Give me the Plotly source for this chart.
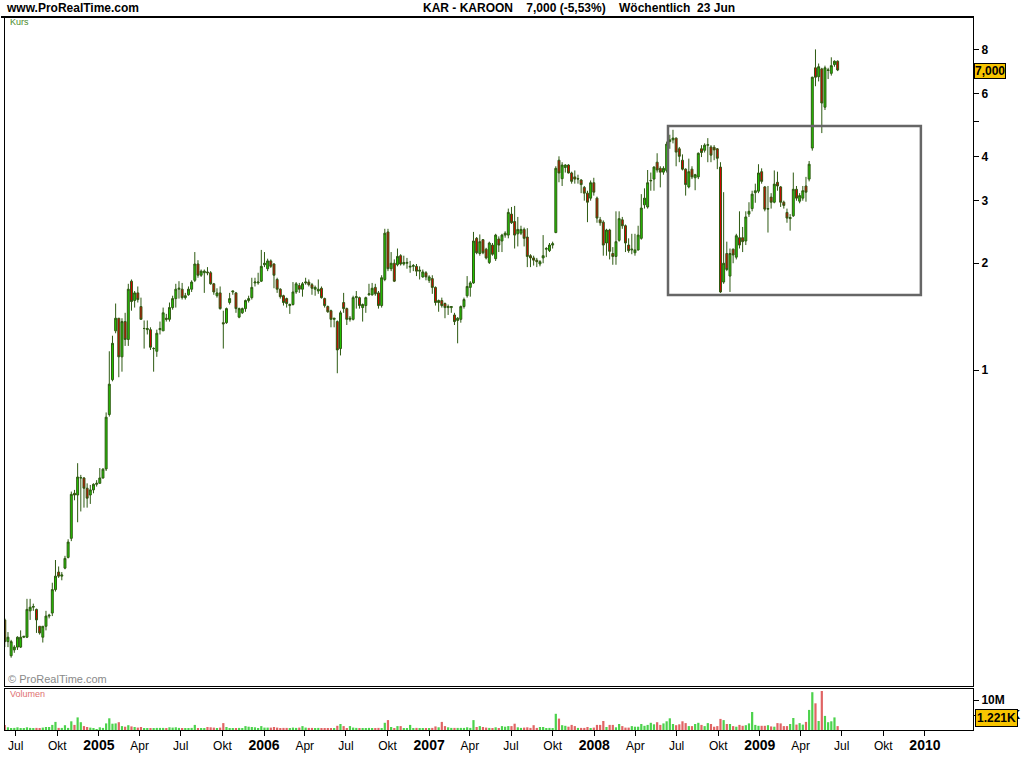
import pandas as pd
import plotly.graph_objects as go

# ---------------- data ----------------
dates = pd.date_range("2004-06-07", periods=264, freq="7D")

opens = [
    0.198,0.172,0.157,0.163,0.166,0.166,0.177,0.177,0.210,0.215,
    0.212,0.190,0.177,0.190,0.203,0.207,0.241,0.270,0.263,0.277,
    0.297,0.336,0.450,0.445,0.497,0.497,0.465,0.445,0.460,0.477,
    0.480,0.497,0.527,0.750,0.940,1.290,1.400,1.090,1.370,1.220,
    1.780,1.570,1.650,1.510,1.310,1.300,1.300,1.150,1.130,1.300,
    1.290,1.400,1.390,1.500,1.590,1.690,1.690,1.600,1.630,1.690,
    1.79,1.99,1.85,1.88,1.89,1.88,1.75,1.62,1.65,1.36,
    1.36,1.55,1.66,1.65,1.41,1.45,1.49,1.57,1.60,1.76,
    1.76,1.78,1.98,1.93,2.03,1.99,1.80,1.69,1.62,1.59,
    1.52,1.53,1.66,1.73,1.69,1.76,1.77,1.74,1.69,1.67,
    1.70,1.59,1.51,1.47,1.39,1.37,1.15,1.55,1.49,1.39,
    1.39,1.60,1.60,1.50,1.52,1.63,1.63,1.71,1.65,1.52,
    1.80,2.45,1.93,2.00,1.98,2.10,1.99,2.00,1.95,1.96,
    1.96,1.90,1.83,1.88,1.79,1.81,1.71,1.55,1.57,1.54,
    1.50,1.50,1.43,1.38,1.39,1.51,1.62,1.71,1.76,2.35,
    2.13,2.33,2.19,2.01,2.25,2.06,2.34,2.31,2.40,2.40,
    2.75,2.62,2.42,2.43,2.49,2.37,2.10,2.07,2.04,1.99,
    2.07,2.19,2.17,2.25,2.44,3.90,3.46,3.72,3.78,3.59,
    3.50,3.45,3.43,3.27,3.15,3.05,3.37,3.05,2.65,2.61,
    2.28,2.48,2.13,2.09,2.32,2.65,2.55,2.25,2.18,2.14,
    2.18,2.35,2.92,2.88,3.41,3.45,3.85,3.70,3.61,3.65,
    4.40,4.45,4.50,4.20,3.90,3.68,3.28,3.68,3.48,3.50,
    4.20,4.16,4.30,4.25,4.24,4.20,3.73,1.77,2.13,1.84,
    2.19,2.08,2.36,2.36,2.31,2.75,2.85,3.16,3.19,3.62,
    3.28,2.84,3.07,2.97,3.38,3.28,2.97,2.78,2.67,2.72,
    3.23,2.99,3.05,3.30,3.45,4.22,7.10,6.70,7.05,5.50,
    6.98,6.85,7.25,7.41,
]
highs = [
    0.200,0.183,0.174,0.168,0.178,0.185,0.178,0.227,0.227,0.220,
    0.213,0.190,0.190,0.210,0.206,0.252,0.292,0.280,0.270,0.300,
    0.334,0.455,0.460,0.547,0.507,0.500,0.480,0.475,0.480,0.490,
    0.530,0.530,0.760,1.130,1.250,1.540,1.400,1.400,1.450,1.750,
    1.800,1.670,1.720,1.600,1.380,1.380,1.320,1.160,1.300,1.370,
    1.500,1.440,1.550,1.620,1.750,1.780,1.760,1.650,1.720,1.790,
    2.15,2.04,1.92,1.92,1.95,1.90,1.76,1.70,1.72,1.47,
    1.50,1.65,1.67,1.66,1.50,1.50,1.58,1.62,1.82,1.82,
    1.88,2.18,2.15,2.06,2.05,2.00,1.82,1.70,1.63,1.60,
    1.54,1.77,1.77,1.76,1.77,1.82,1.80,1.76,1.73,1.80,
    1.72,1.60,1.52,1.48,1.40,1.38,1.47,1.65,1.50,1.42,
    1.62,1.67,1.61,1.54,1.61,1.75,1.76,1.75,1.67,1.85,
    2.50,2.50,2.15,2.05,2.20,2.12,2.10,2.07,2.03,1.99,
    1.99,1.96,1.92,1.90,1.85,1.85,1.72,1.58,1.60,1.55,
    1.53,1.51,1.45,1.41,1.52,1.60,1.84,1.78,2.45,2.37,
    2.41,2.34,2.21,2.30,2.28,2.42,2.38,2.42,2.46,2.85,
    2.88,2.90,2.70,2.55,2.52,2.51,2.12,2.10,2.07,2.04,
    2.40,2.22,2.28,2.30,3.75,4.00,3.85,3.80,3.80,3.62,
    3.65,3.55,3.45,3.30,3.20,3.42,3.48,3.08,2.70,2.64,
    2.50,2.50,2.22,2.80,2.80,2.70,2.57,2.35,2.42,2.42,
    2.55,3.13,3.25,3.66,3.60,3.75,4.08,3.75,3.75,4.40,
    4.60,4.75,4.52,4.25,4.05,3.70,3.94,3.75,3.57,4.10,
    4.30,4.35,4.50,4.30,4.30,4.22,3.85,3.17,2.30,2.20,
    2.20,2.42,2.80,2.53,2.80,2.97,3.20,3.35,3.80,3.70,
    3.30,3.30,3.15,3.65,3.62,3.30,3.00,2.85,2.75,3.60,
    3.30,3.15,3.30,3.50,3.88,6.70,8.00,7.30,7.10,7.20,
    7.10,7.60,7.45,7.45,
]
lows = [
    0.166,0.166,0.155,0.160,0.163,0.165,0.176,0.176,0.198,0.210,
    0.182,0.180,0.171,0.185,0.200,0.203,0.238,0.260,0.256,0.275,
    0.295,0.330,0.430,0.373,0.400,0.410,0.410,0.420,0.450,0.470,
    0.480,0.495,0.520,0.740,0.930,1.270,0.955,0.990,1.170,1.170,
    1.470,1.500,1.550,1.390,1.150,1.260,1.140,0.990,1.090,1.260,
    1.290,1.370,1.370,1.480,1.500,1.590,1.580,1.580,1.620,1.660,
    1.77,1.82,1.83,1.65,1.85,1.74,1.63,1.60,1.48,1.15,
    1.35,1.53,1.63,1.45,1.40,1.44,1.46,1.55,1.58,1.72,
    1.74,1.77,1.95,1.90,1.94,1.70,1.65,1.59,1.52,1.50,
    1.44,1.52,1.64,1.65,1.61,1.74,1.72,1.63,1.62,1.64,
    1.59,1.50,1.45,1.32,1.32,0.98,1.10,1.45,1.34,1.37,
    1.38,1.49,1.49,1.37,1.45,1.62,1.62,1.62,1.49,1.50,
    1.78,1.90,1.90,1.77,1.96,1.97,1.97,1.93,1.88,1.90,
    1.84,1.80,1.82,1.79,1.76,1.64,1.52,1.46,1.50,1.40,
    1.43,1.45,1.34,1.19,1.36,1.49,1.60,1.61,1.75,2.12,
    2.10,2.12,2.05,1.99,2.10,2.03,2.15,2.15,2.36,2.35,
    2.58,2.20,2.23,2.40,2.23,1.95,1.95,1.97,1.95,1.96,
    2.00,2.08,2.15,2.20,2.43,3.38,3.30,3.60,3.58,3.35,
    3.35,3.35,3.15,3.00,2.61,3.00,3.10,2.60,2.55,2.10,
    2.10,2.05,1.98,1.98,2.30,2.50,2.15,2.14,2.12,2.10,
    2.17,2.33,2.85,2.85,3.20,3.20,3.60,3.27,3.55,3.60,
    4.20,4.35,3.75,3.85,3.65,3.10,3.25,3.45,3.21,3.45,
    3.98,4.10,3.85,3.85,3.90,3.68,1.65,1.75,1.90,1.66,
    2.00,2.05,2.20,2.15,2.25,2.70,2.80,2.96,3.15,3.35,
    2.80,2.44,2.85,2.95,3.20,2.88,2.85,2.60,2.47,2.70,
    3.00,2.95,3.00,2.98,3.40,4.15,6.30,6.50,4.65,5.40,
    6.60,6.75,7.15,6.95,
]
closes = [
    0.172,0.177,0.172,0.166,0.177,0.177,0.178,0.212,0.215,0.216,
    0.198,0.182,0.190,0.203,0.204,0.241,0.263,0.263,0.265,0.295,
    0.328,0.447,0.445,0.500,0.498,0.465,0.436,0.460,0.477,0.480,
    0.497,0.526,0.737,0.913,1.190,1.400,1.090,1.370,1.220,1.690,
    1.560,1.650,1.580,1.390,1.310,1.310,1.160,1.150,1.270,1.310,
    1.450,1.390,1.500,1.590,1.690,1.700,1.600,1.620,1.690,1.770,
    1.99,1.85,1.90,1.90,1.88,1.75,1.66,1.65,1.49,1.35,
    1.49,1.59,1.67,1.49,1.49,1.49,1.57,1.59,1.71,1.77,
    1.77,1.96,2.00,2.03,1.96,1.85,1.69,1.61,1.55,1.54,
    1.53,1.66,1.75,1.69,1.75,1.77,1.74,1.70,1.71,1.69,
    1.60,1.52,1.46,1.39,1.40,1.14,1.45,1.49,1.39,1.40,
    1.60,1.61,1.52,1.53,1.60,1.64,1.70,1.64,1.52,1.82,
    2.43,1.93,2.00,1.78,2.09,1.99,2.01,2.01,1.96,1.97,
    1.90,1.91,1.89,1.83,1.83,1.71,1.55,1.57,1.52,1.50,
    1.51,1.51,1.37,1.40,1.51,1.58,1.72,1.76,2.31,2.14,
    2.30,2.14,2.07,2.28,2.12,2.40,2.25,2.40,2.43,2.78,
    2.60,2.40,2.49,2.49,2.35,2.09,2.07,2.04,2.02,2.02,
    2.10,2.20,2.25,2.27,3.70,3.59,3.78,3.78,3.59,3.40,
    3.45,3.46,3.33,3.15,2.97,3.37,3.17,2.68,2.60,2.25,
    2.48,2.16,2.09,2.30,2.67,2.55,2.28,2.17,2.19,2.18,
    2.40,2.86,3.05,3.37,3.42,3.73,3.66,3.61,3.70,4.33,
    4.45,4.50,4.11,4.00,3.68,3.33,3.62,3.50,3.55,4.08,
    4.10,4.30,4.31,4.03,4.17,3.95,1.66,2.00,1.92,2.13,
    2.11,2.39,2.25,2.30,2.70,2.80,3.13,3.20,3.59,3.40,
    2.84,2.85,2.97,3.34,3.30,2.97,2.91,2.68,2.69,3.23,
    3.05,3.10,3.20,3.17,3.80,6.68,6.68,7.15,5.65,7.10,
    7.00,7.20,7.41,7.00,
]
volumes_m = [
    1.7,0.9,0.45,0.7,0.9,0.55,0.35,0.9,0.7,0.45,
    0.7,0.45,0.8,1.0,1.0,1.7,2.7,0.7,0.7,1.6,
    0.7,2.9,1.7,4.2,2.6,1.3,1.0,0.8,0.35,0.2,
    0.9,0.7,2.2,3.9,2.1,2.2,2.6,1.3,1.1,1.6,
    1.2,1.0,0.8,1.0,0.35,0.45,0.55,0.55,0.7,0.7,
    0.7,0.45,0.9,0.8,0.9,0.7,0.45,0.45,0.55,0.7,
    1.7,0.55,0.45,0.45,1.0,0.9,0.8,0.55,0.8,2.3,
    1.0,0.35,0.35,0.35,0.7,0.45,1.3,1.1,1.0,0.9,
    0.55,1.3,0.8,0.8,0.8,1.0,0.8,0.55,0.7,0.7,
    0.55,0.8,0.7,0.8,1.3,0.8,0.7,0.7,0.45,0.7,
    0.45,0.45,0.35,0.45,0.35,1.4,2.0,1.3,0.55,1.3,
    0.8,0.7,0.55,0.35,0.35,0.7,0.45,0.55,0.7,0.55,
    2.4,3.3,1.0,0.55,1.3,1.3,0.55,0.35,1.7,0.55,
    0.7,0.45,0.35,0.55,0.55,0.7,1.2,0.9,2.7,1.3,
    0.9,0.7,0.7,0.7,0.7,0.7,0.9,0.7,3.3,1.0,
    1.3,1.0,0.8,0.7,0.55,0.9,0.55,1.3,1.1,1.3,
    1.3,2.1,0.9,0.7,0.8,0.9,0.7,1.6,0.7,1.0,
    1.0,0.45,0.7,0.6,5.4,3.8,1.6,1.4,1.1,1.7,
    1.3,0.7,0.7,0.7,1.0,0.45,0.8,1.7,1.7,3.0,
    1.0,1.7,1.7,0.9,2.0,1.3,0.8,0.8,1.3,1.1,
    1.1,2.0,1.4,1.7,2.4,1.9,2.6,1.7,2.2,2.9,
    3.9,2.0,1.6,1.9,2.9,2.3,1.3,1.3,2.0,2.4,
    1.7,1.3,2.3,2.0,1.1,1.3,3.7,3.3,2.0,2.0,
    1.3,1.1,1.7,1.4,1.6,2.2,6.0,1.7,1.4,1.4,
    1.4,1.6,1.2,1.1,2.3,2.2,1.3,1.3,2.0,4.0,
    1.8,2.3,1.8,2.7,6.7,12.6,8.9,3.0,13.0,4.7,
    2.6,2.9,4.2,1.3,
]

x_tick_dates = ["2004-07-01","2004-10-01","2005-01-01","2005-04-01","2005-07-01",
                "2005-10-01","2006-01-01","2006-04-01","2006-07-01","2006-10-01",
                "2007-01-01","2007-04-01","2007-07-01","2007-10-01","2008-01-01",
                "2008-04-01","2008-07-01","2008-10-01","2009-01-01","2009-04-01",
                "2009-07-01","2009-10-01","2010-01-01"]
x_tick_labels = ["Jul","Okt","2005","Apr","Jul","Okt","2006","Apr","Jul","Okt",
                 "2007","Apr","Jul","Okt","2008","Apr","Jul","Okt","2009","Apr",
                 "Jul","Okt","2010"]
price_ticks = [1, 2, 3, 4, 5, 6, 7, 8]
price_tick_labels = ["1", "2", "3", "4", "", "6", "", "8"]
vol_ticks = [5, 10]
vol_tick_labels = ["5.000K", "10M"]

box_x = ["2008-06-12", "2009-12-23"]
box_y = [1.627, 4.87]

# ---------------- styling ----------------
FONT = "Liberation Sans, Arial, sans-serif"
GREEN_FILL = "#22c800"
RED_FILL = "#d80000"
OUTLINE = "#2e5a12"
VOL_GREEN = "#4cd24c"
VOL_RED = "#e06464"

tick_text = []
for t in x_tick_labels:
    if t.isdigit():
        tick_text.append("<span style='font-size:14px'><b>" + t + "</b></span>")
    else:
        tick_text.append(t)

vol_colors = [VOL_GREEN if c >= o else VOL_RED for o, c in zip(opens, closes)]

fig = go.Figure()
fig.add_trace(go.Candlestick(
    x=dates, open=opens, high=highs, low=lows, close=closes,
    increasing=dict(fillcolor=GREEN_FILL, line=dict(color=OUTLINE, width=1)),
    decreasing=dict(fillcolor=RED_FILL, line=dict(color=OUTLINE, width=1)),
    whiskerwidth=0, xaxis="x", yaxis="y", showlegend=False, name="KAR",
))
fig.add_trace(go.Bar(
    x=dates, y=volumes_m, marker=dict(color=vol_colors, line=dict(width=0)),
    xaxis="x2", yaxis="y2", showlegend=False, name="Volumen",
))

x_range = ["2004-06-07 10:30", "2010-04-17 05:00"]
top = 17
bottom_plot = 730
H = bottom_plot - top
main_dom = [(730 - 686) / H, 1.0]
vol_dom = [0.0, (730 - 689) / H]

axis_common = dict(showline=True, linecolor="black", linewidth=1, mirror=True,
                   showgrid=False, zeroline=False)

fig.update_layout(
    width=1024, height=768,
    margin=dict(l=4, r=49, t=top, b=768 - bottom_plot),
    paper_bgcolor="white", plot_bgcolor="white",
    boxgap=0.12, bargap=0.3,
    font=dict(family=FONT, size=12, color="black"),
    xaxis=dict(domain=[0, 1], anchor="y", range=x_range, type="date",
               showticklabels=False, ticks="", rangeslider=dict(visible=False),
               **axis_common),
    yaxis=dict(domain=main_dom, anchor="x", type="log",
               range=[-0.8894, 0.9943], side="right",
               tickvals=price_ticks, ticktext=price_tick_labels,
               ticks="outside", ticklen=5, tickcolor="black",
               tickfont=dict(family=FONT, size=12, color="black", weight="bold"),
               **axis_common),
    xaxis2=dict(domain=[0, 1], anchor="y2", range=x_range, type="date",
                matches="x", tickvals=x_tick_dates, ticktext=tick_text,
                ticks="outside", ticklen=5, tickcolor="black",
                tickfont=dict(family=FONT, size=12, color="black"),
                **axis_common),
    yaxis2=dict(domain=vol_dom, anchor="x2", range=[0, 13.67], side="right",
                tickvals=vol_ticks, ticktext=vol_tick_labels,
                ticks="outside", ticklen=5, tickcolor="black",
                tickfont=dict(family=FONT, size=12, color="black", weight="bold"),
                **axis_common),
    hovermode=False,
)

# rectangle drawn on the chart
fig.add_shape(type="rect", xref="x", yref="y",
              x0=box_x[0], x1=box_x[1], y0=box_y[0], y1=box_y[1],
              line=dict(color="#666666", width=2.5), fillcolor="rgba(0,0,0,0)")

# header separator line
fig.add_shape(type="line", xref="paper", yref="paper",
              x0=-4 / 971, x1=1, y0=1, y1=1, line=dict(color="black", width=2))


def px(xp):
    return (xp - 4) / 971


def py(yp):
    return (730 - yp) / H


ann = [
    dict(text="www.ProRealTime.com", x=px(3), y=py(8), xanchor="left", yanchor="middle",
         font=dict(family=FONT, size=12, color="black", weight="bold")),
    dict(text="KAR - KAROON\u00a0\u00a0\u00a0 7,000 (-5,53%)\u00a0\u00a0\u00a0 Wöchentlich\u00a0 23 Jun",
         x=px(580), y=py(8), xanchor="center", yanchor="middle",
         font=dict(family=FONT, size=12, color="black", weight="bold")),
    dict(text="Kurs", x=px(7), y=py(22), xanchor="left", yanchor="middle",
         font=dict(family=FONT, size=9, color="#4a8a2a")),
    dict(text="© ProRealTime.com", x=px(5), y=py(679), xanchor="left", yanchor="middle",
         font=dict(family=FONT, size=11, color="#8a8a8a")),
    dict(text="Volumen", x=px(7), y=py(694), xanchor="left", yanchor="middle",
         font=dict(family=FONT, size=9, color="#e07070")),
    dict(text="<b>7,000</b>", x=px(976), y=py(70.5), xanchor="left", yanchor="middle",
         font=dict(family=FONT, size=12, color="black"),
         bgcolor="#f7c400", bordercolor="black", borderwidth=1, borderpad=0),
    dict(text="<b>1.221K</b>", x=px(977), y=py(718), xanchor="left", yanchor="middle",
         font=dict(family=FONT, size=12, color="black"),
         bgcolor="#f7c400", bordercolor="black", borderwidth=1, borderpad=1),
]
for a in ann:
    fig.add_annotation(xref="paper", yref="paper", showarrow=False, **a)

fig.write_html("out.html", config={"displayModeBar": False},
               post_script="document.body.style.margin='0';document.body.style.overflow='hidden';")
